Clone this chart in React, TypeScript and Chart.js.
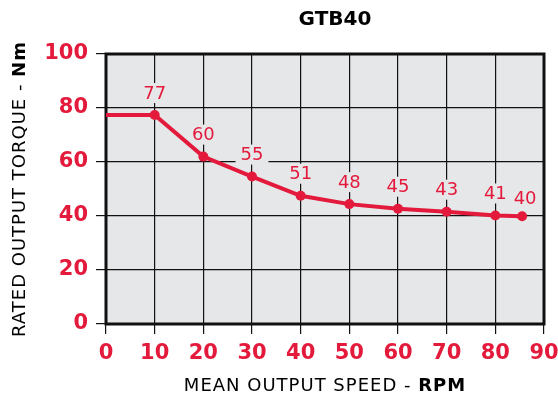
import React, { useEffect, useRef } from "react";
import { Chart, registerables } from "chart.js";

Chart.register(...registerables);

const speeds = [0, 10, 20, 30, 40, 50, 60, 70, 80, 85.5];
const torques = [77.4, 77.4, 62, 54.6, 47.5, 44.4, 42.7, 41.6, 40.2, 39.9];
const valueLabels = ["", "77", "60", "55", "51", "48", "45", "43", "41", "40"];
const titleText = "GTB40";
const xTitleParts = ["MEAN OUTPUT SPEED - ", "RPM"];
const yTitleParts = ["RATED OUTPUT TORQUE - ", "Nm"];

const RED = "#e31a3c";
const PLOT_BG = "#e6e7e9";
const FONT = "'DejaVu Sans'";

function drawMixed(ctx: any, parts: string[], size: number) {
  ctx.letterSpacing = "1px";
  ctx.font = `400 ${size}px ${FONT}`;
  const w1 = ctx.measureText(parts[0]).width;
  ctx.font = `700 ${size}px ${FONT}`;
  const w2 = ctx.measureText(parts[1]).width;
  const total = w1 + w2;
  ctx.textBaseline = "middle";
  ctx.textAlign = "left";
  ctx.fillStyle = "#000";
  ctx.font = `400 ${size}px ${FONT}`;
  ctx.fillText(parts[0], -total / 2, 0);
  ctx.font = `700 ${size}px ${FONT}`;
  ctx.fillText(parts[1], -total / 2 + w1, 0);
  ctx.letterSpacing = "0px";
}

const decorPlugin = {
  id: "decor",
  beforeDraw(chart: any) {
    const { ctx, chartArea: a } = chart;
    ctx.save();
    ctx.fillStyle = PLOT_BG;
    ctx.fillRect(a.left, a.top, a.right - a.left, a.bottom - a.top);
    ctx.restore();
  },
  beforeDatasetsDraw(chart: any) {
    const { ctx, chartArea: a } = chart;
    ctx.save();
    ctx.strokeStyle = "#111";
    ctx.lineWidth = 3;
    ctx.strokeRect(a.left, a.top, a.right - a.left, a.bottom - a.top);
    const meta = chart.getDatasetMeta(0);
    ctx.font = `400 18px ${FONT}`;
    ctx.textAlign = "center";
    ctx.textBaseline = "middle";
    meta.data.forEach((pt: any, i: number) => {
      const t = valueLabels[i];
      if (!t) return;
      const last = i === meta.data.length - 1;
      const cx = pt.x + (last ? 3 : 0);
      const cy = pt.y - (last ? 18 : 22);
      const w = ctx.measureText(t).width;
      ctx.fillStyle = PLOT_BG;
      ctx.fillRect(cx - w / 2 - 5, cy - 10, w + 10, 20);
      ctx.fillStyle = RED;
      ctx.fillText(t, cx, cy + 1);
    });
    ctx.restore();
  },
  afterDraw(chart: any) {
    const { ctx, chartArea: a } = chart;
    ctx.save();
    ctx.font = `700 20px ${FONT}`;
    ctx.fillStyle = "#000";
    ctx.textAlign = "center";
    ctx.textBaseline = "middle";
    ctx.fillText(titleText, 335, 20);
    ctx.save();
    ctx.translate((a.left + a.right) / 2, 386);
    drawMixed(ctx, xTitleParts, 18);
    ctx.restore();
    ctx.save();
    ctx.translate(20, (a.top + a.bottom) / 2);
    ctx.rotate(-Math.PI / 2);
    drawMixed(ctx, yTitleParts, 18);
    ctx.restore();
    ctx.restore();
  },
};

export default function App() {
  const ref = useRef<HTMLCanvasElement>(null);
  useEffect(() => {
    document.body.style.margin = "0";
    const chart = new Chart(ref.current!, {
      type: "line",
      data: {
        datasets: [
          {
            data: speeds.map((x, i) => ({ x, y: torques[i] })),
            borderColor: RED,
            backgroundColor: RED,
            borderWidth: 4,
            pointRadius: speeds.map((_, i) => (i === 0 ? 0 : 5)),
            pointBorderWidth: 0,
            tension: 0,
          },
        ],
      },
      options: {
        animation: false,
        responsive: false,
        layout: { padding: { left: 0, right: 14, top: 54, bottom: 0 } },
        plugins: { legend: { display: false }, tooltip: { enabled: false }, title: { display: false } },
        scales: {
          x: {
            type: "linear",
            min: 0,
            max: 90,
            afterFit: (s: any) => {
              s.height = 77;
              s.paddingLeft = 0;
              s.paddingRight = 0;
            },
            ticks: {
              stepSize: 10,
              color: RED,
              font: { family: "DejaVu Sans", size: 21, weight: "bold" },
              padding: 7,
              maxRotation: 0,
            },
            grid: { color: "#111", lineWidth: 1.2, tickLength: 10 },
            border: { display: false },
          },
          y: {
            min: 0,
            max: 100,
            afterFit: (s: any) => {
              s.width = 106;
              s.paddingTop = 0;
              s.paddingBottom = 0;
            },
            ticks: {
              stepSize: 20,
              color: RED,
              font: { family: "DejaVu Sans", size: 21, weight: "bold" },
              padding: 8,
            },
            grid: { color: "#111", lineWidth: 1.2, tickLength: 10 },
            border: { display: false },
          },
        },
      },
      plugins: [decorPlugin],
    } as any);
    return () => chart.destroy();
  }, []);
  return (
    <div style={{ position: "absolute", left: 0, top: 0, width: 558, height: 401 }}>
      <canvas ref={ref} width={558} height={401} style={{ display: "block" }} />
    </div>
  );
}
